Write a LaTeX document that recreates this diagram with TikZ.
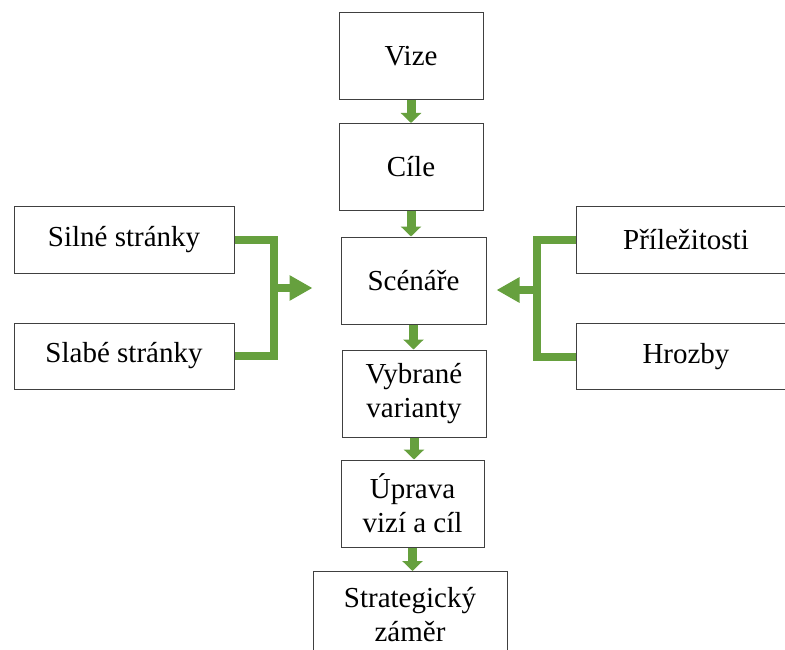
\documentclass[tikz,border=0pt]{standalone}
\usepackage{fontspec}
\setmainfont{Liberation Serif}
\usetikzlibrary{arrows.meta}
\definecolor{flowgreen}{RGB}{102,160,62}
\begin{document}
\begin{tikzpicture}[x=1pt, y=-1pt, font=\fontsize{29}{34}\selectfont,
  box/.style={rectangle, draw=black!75, line width=1pt, align=center, inner sep=0pt, minimum height=87pt},
  sidebox/.style={box, minimum width=220pt, minimum height=66pt},
  flow/.style={draw=flowgreen, line width=9pt, -{Triangle[length=10pt, width=20pt]}},
  merge/.style={draw=flowgreen, line width=8pt},
  side/.style={draw=flowgreen, line width=8pt, -{Triangle[length=23pt, width=24pt]}}]
\useasboundingbox (0,0) rectangle (785,650);
% main chain
\node[box, minimum width=144pt] (vize) at (411,56.5) {Vize};
\node[box, minimum width=144pt] (cile) at (411,167) {Cíle};
\node[box, minimum width=145pt] (scen) at (413.5,280.5) {Scénáře};
\node[box, minimum width=144pt] (vybr) at (414,393.5) {Vybrané\\varianty};
\node[box, minimum width=143pt] (uprava) at (412.5,503.5) {Úprava\\vizí a cíl};
\node[box, minimum width=194pt] (zamer) at (410,615) {Strategický\\záměr};
% side boxes
\node[sidebox] (silne) at (124,240) {Silné stránky};
\node[sidebox] (slabe) at (124,356) {Slabé stránky};
\node[sidebox] (prilez) at (686,240) {Příležitosti};
\node[sidebox] (hrozby) at (686,356.5) {Hrozby};
\foreach \a/\b in {vize/cile, cile/scen, scen/vybr, vybr/uprava, uprava/zamer}
  \draw[flow] (\a.south) -- (\a.south |- \b.north);
% left and right brackets
\draw[merge] (silne.east) -- ++(39,0) |- (slabe.east);
\draw[merge] (prilez.west) -- ++(-39,0) |- (hrozby.west);
\coordinate (lmid) at (273,288);
\coordinate (rmid) at (538,290);
\draw[side, shorten >=28pt] (lmid) -- (lmid -| scen.west);
\draw[side, shorten >=10pt] (rmid) -- (rmid -| scen.east);
\end{tikzpicture}
\end{document}
